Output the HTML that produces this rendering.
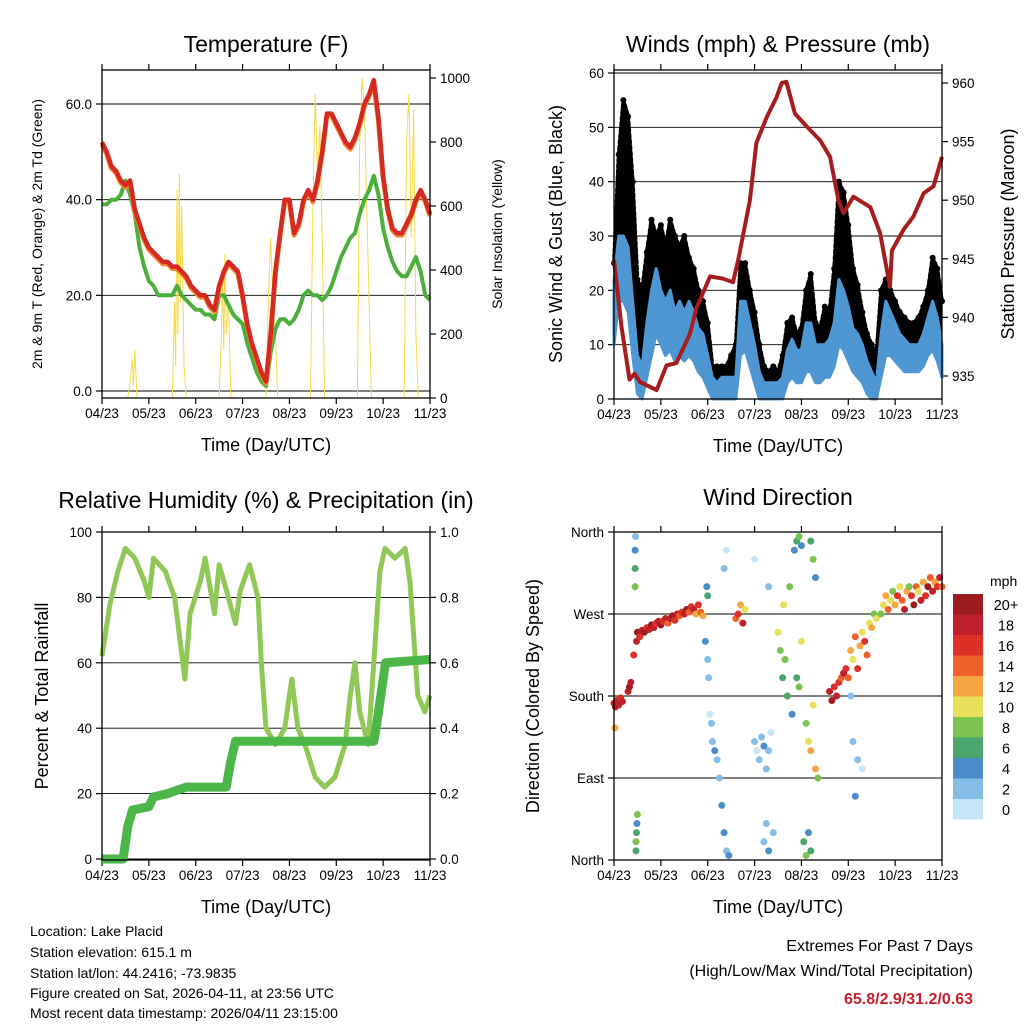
<!DOCTYPE html>
<html><head><meta charset="utf-8">
<style>
body{margin:0;background:#fff;}
svg{display:block;font-family:"Liberation Sans",Arial,sans-serif;}
</style></head>
<body>
<svg id="chart" width="1024" height="1024" viewBox="0 0 1024 1024" xmlns="http://www.w3.org/2000/svg">
<rect width="1024" height="1024" fill="#fff"/>
<g id="root"></g>
<text x="30" y="936" font-size="14">Location: Lake Placid</text>
<text x="30" y="957" font-size="14">Station elevation: 615.1 m</text>
<text x="30" y="978" font-size="14">Station lat/lon: 44.2416; -73.9835</text>
<text x="30" y="998" font-size="14">Figure created on Sat, 2026-04-11, at 23:56 UTC</text>
<text x="30" y="1018" font-size="14">Most recent data timestamp: 2026/04/11 23:15:00</text>
<text x="973" y="951" font-size="16" text-anchor="end">Extremes For Past 7 Days</text>
<text x="973" y="976" font-size="16" text-anchor="end">(High/Low/Max Wind/Total Precipitation)</text>
<text x="973" y="1004" font-size="16" font-weight="bold" fill="#c8202a" text-anchor="end">65.8/2.9/31.2/0.63</text>
</svg>
<script>
// ---------- DATA ----------
const xTickLabels = ["04/23","05/23","06/23","07/23","08/23","09/23","10/23","11/23"];
const days71 = Array.from({length:71},(_,i)=>i/10);
const tempRed = [52,50,47,46,44,43,44,38,35,32,30,29,28,27,27,26,26,25,24,22,21,20,20,18,17,22,25,27,26,25,20,14,10,7,4,2,12,25,33,40,40,33,35,40,42,40,44,50,58,58,56,54,52,51,53,56,60,62,65,57,45,38,34,33,33,35,37,40,42,40,37];
const tempDew = [39,39,40,40,41,44,41,37,30,26,23,22,20,20,20,20,22,20,19,18,17,17,16,16,15,20,20,18,16,15,14,10,7,4,2,1,8,13,15,15,14,15,17,20,21,20,20,19,20,22,25,28,30,32,33,37,40,42,45,41,34,30,27,25,24,24,26,28,25,20,19];
const solarDays = [0,0.55,0.6,0.65,0.67,0.7,0.75,1.5,1.55,1.57,1.6,1.62,1.65,1.67,1.7,1.75,1.8,2.5,2.55,2.57,2.6,2.62,2.65,2.7,2.75,3.5,3.55,3.6,3.65,3.7,3.75,4.45,4.5,4.55,4.6,4.65,4.7,4.75,5.45,5.5,5.55,5.6,5.65,5.7,5.75,6.45,6.5,6.55,6.6,6.65,6.7,6.75,7];
const solarVals = [0,0,50,120,40,150,0,0,300,100,650,200,700,300,600,100,0,0,200,400,150,450,200,300,0,0,300,500,300,200,0,0,600,950,700,850,500,0,0,800,1000,900,600,300,0,0,800,950,500,900,200,0,0];
const windHi = [22,30,30,28,18,8,6,14,20,24,20,18,20,16,18,16,18,16,13,12,8,4,3,4,4,4,4,18,18,14,10,5,3,3,3,3,4,9,11,9,9,14,14,10,10,10,11,14,22,20,17,13,12,10,7,5,3,12,18,16,14,12,11,10,10,10,12,15,18,15,10];
const windLo = [10,18,18,16,8,1,0,4,8,12,10,8,9,7,8,7,8,7,5,4,2,0,0,0,0,0,0,8,9,6,3,0,0,0,0,0,0,3,4,3,3,5,5,3,3,4,4,6,10,9,7,5,4,3,1,0,0,4,8,8,7,6,5,5,5,5,6,8,9,7,4];
const gustHi = [25,45,55,52,40,22,20,27,33,30,32,28,33,30,28,30,26,24,20,18,14,6,6,6,6,8,10,25,25,20,16,10,6,5,6,5,8,14,15,12,13,20,23,14,13,17,16,24,40,38,32,24,21,16,12,10,8,20,22,20,18,16,15,14,14,15,17,20,26,24,18];
const presDays = [0,0.16,0.33,0.44,0.55,0.91,1.12,1.33,1.62,1.76,2.05,2.33,2.54,2.65,2.9,3.04,3.26,3.47,3.58,3.68,3.86,4.11,4.4,4.61,4.79,4.9,5.11,5.47,5.68,5.89,5.93,6.18,6.39,6.61,6.82,7];
const presVals = [944.9,939.2,934.7,935.2,934.5,933.8,935.9,936.1,938.6,940.8,943.5,943.3,943.0,944.9,950.0,954.9,957.1,958.8,960.0,960.1,957.4,956.3,955.1,953.7,950.0,948.9,950.3,949.4,947.2,942.6,945.7,947.5,948.6,950.6,951.2,953.7];
const rhDays = [0,0.17,0.34,0.5,0.7,0.9,1.0,1.1,1.35,1.55,1.77,1.88,2.1,2.2,2.4,2.5,2.6,2.85,2.95,3.15,3.33,3.4,3.5,3.7,3.9,4.05,4.18,4.33,4.55,4.75,4.97,5.19,5.3,5.4,5.5,5.68,5.8,5.93,6.04,6.25,6.47,6.57,6.74,6.89,7.0];
const rhVals = [62,78,88,95,92,85,80,92,88,80,55,75,85,92,75,90,85,72,82,90,80,60,40,35,40,55,40,35,25,22,25,35,50,60,45,35,60,88,95,92,95,85,50,45,50];
const prDays = [0,0.45,0.55,0.65,1.0,1.1,1.4,1.6,1.8,2.65,2.75,2.85,5.8,5.85,5.95,6.05,7.0];
const prVals = [0,0,0.1,0.15,0.16,0.19,0.2,0.21,0.22,0.22,0.3,0.36,0.36,0.4,0.5,0.6,0.61];
const wdDay = [0,0.02,0.03,0.06,0.1,0.14,0.18,0.3,0.33,0.36,0.42,0.48,0.5,0.55,0.6,0.65,0.7,0.75,0.8,0.85,0.9,0.95,1.0,1.05,1.1,1.15,1.2,1.25,1.3,1.35,1.4,1.45,1.5,1.55,1.6,1.65,1.7,1.75,1.8,1.85,1.9,0.45,0.45,0.45,0.46,0.47,0.47,0.48,0.49,0.5,1.95,2.0,2.02,2.05,2.08,2.0,1.98,2.1,2.15,2.2,2.25,2.3,2.35,2.4,2.45,2.35,2.4,2.6,2.65,2.7,2.75,2.8,3.0,3.05,3.1,3.15,3.2,3.25,3.3,3.35,3.2,3.25,3.3,3.4,3.0,3.3,3.5,3.55,3.6,3.62,3.65,3.7,3.75,3.8,3.85,3.9,3.95,4.0,3.9,3.95,4.0,4.05,4.1,4.15,4.2,4.1,4.15,4.2,4.25,4.3,4.35,4.2,4.25,4.3,4.6,4.65,4.7,4.75,4.8,4.85,4.9,4.95,5.0,5.05,5.1,5.15,5.2,5.25,5.3,5.35,5.4,5.45,5.5,5.55,5.6,5.1,5.2,5.3,5.15,5.05,5.7,5.75,5.8,5.85,5.9,5.95,6.0,6.05,6.1,6.15,6.2,6.25,6.3,6.35,6.4,6.45,6.5,6.55,6.6,6.65,6.7,6.75,6.8,6.85,6.9,6.95,7.0];
const wdDir = [172,145,168,175,170,178,174,185,190,195,225,240,250,245,252,250,255,253,258,255,260,262,258,262,265,260,265,268,263,270,268,272,270,275,272,278,275,270,280,272,268,300,320,340,355,10,20,30,40,50,240,220,200,160,150,290,300,130,120,110,90,60,30,10,5,320,340,265,270,280,260,275,130,120,110,135,125,100,120,140,20,40,10,30,330,300,250,230,200,280,220,180,300,160,340,350,355,345,200,190,240,20,5,30,10,150,130,120,170,100,90,350,330,310,185,175,190,180,195,200,205,210,200,230,220,245,210,235,250,240,225,260,255,270,265,130,110,100,70,180,270,280,290,275,285,295,280,290,300,285,275,295,300,290,280,300,295,285,305,290,300,310,295,305,300,310,300];
const wdSpd = [18,12,20,18,18,16,18,18,20,18,16,18,20,16,18,20,16,18,20,18,16,18,20,16,18,14,18,20,16,18,14,16,18,20,14,16,18,12,16,14,12,8,6,4,2,6,8,6,4,8,4,3,2,1,2,6,4,3,4,3,3,4,4,3,4,2,1,14,16,12,18,10,2,1,3,2,4,2,3,1,2,3,4,2,1,3,10,8,6,10,8,6,8,4,4,6,8,4,6,8,10,6,8,4,6,8,10,12,10,12,8,6,8,4,18,20,16,18,16,14,18,16,14,12,10,14,16,12,10,16,14,10,12,8,10,2,3,1,4,2,8,10,12,14,10,8,12,16,10,14,18,12,8,16,20,14,10,18,12,16,20,14,18,12,16,18,14];
const spdLabels = ["20+","18","16","14","12","10","8","6","4","2","0"];
const spdColors = ["#9b1b1e","#c0202a","#dc3129","#ef6129","#f6a544","#e8e05a","#7cc250","#4aa56e","#4a8dc8","#86bde6","#c5e6f8"];

// ---------- HELPERS ----------
const NS="http://www.w3.org/2000/svg";
const root=document.getElementById('root');
function mk(tag,attrs,parent,text){const e=document.createElementNS(NS,tag);for(const k in attrs)e.setAttribute(k,attrs[k]);if(text!==undefined)e.textContent=text;(parent||root).appendChild(e);return e;}
function lin(d0,d1,r0,r1){return v=>r0+(v-d0)/(d1-d0)*(r1-r0);}
function pathOf(xs,ys,fx,fy){return xs.map((x,i)=>(i?'L':'M')+fx(x).toFixed(1)+','+fy(ys[i]).toFixed(1)).join('');}

function panel(name,x0,x1,y0,y1,title,titleY){
  const g=mk('g',{});
  
  
  const t=mk('text',{x:(x0+x1)/2,y:titleY,'font-size':23,'text-anchor':'middle'},g,title);
  
  
  const fx=lin(0,7,x0,x1);
  xTickLabels.forEach((lb,i)=>{
    const xx=fx(i);
    mk('line',{x1:xx,x2:xx,y1:y1,y2:y1+6,stroke:'#000','stroke-width':1.2},g);
    mk('line',{x1:xx,x2:xx,y1:y0,y2:y0-6,stroke:'#000','stroke-width':1.2},g);
    const tl=mk('text',{x:xx,y:y1+20,'font-size':13.5,'text-anchor':'middle'},g,lb);
    
    
  });
  const xt=mk('text',{x:(x0+x1)/2,y:y1+53,'font-size':18,'text-anchor':'middle'},g,'Time (Day/UTC)');
  
  
  return {g,fx};
}
function frame(g,x0,x1,y0,y1){mk('rect',{x:x0,y:y0,width:x1-x0,height:y1-y0,fill:'none',stroke:'#000','stroke-width':1.3},g);}
function yAxis(g,vals,labels,fy,x,side,grid,x0,x1){
  vals.forEach((v,i)=>{
    const yy=fy(v);
    if(grid)mk('line',{x1:x0,x2:x1,y1:yy,y2:yy,stroke:'#000','stroke-width':0.9},g);
    mk('line',{x1:x,x2:x+(side<0?-6:6),y1:yy,y2:yy,stroke:'#000','stroke-width':1.2},g);
    const t=mk('text',{x:x+(side<0?-10:10),y:yy+5,'font-size':13.5,'text-anchor':side<0?'end':'start'},g,labels[i]);
    
    
  });
}
function vTitle(g,txt,x,y,size,name){const t=mk('text',{x:x,y:y,'font-size':size,'text-anchor':'middle',transform:`rotate(-90 ${x} ${y})`},g,txt);}

// ---------- PANEL 1: TEMPERATURE ----------
{
  const X0=102,X1=430,Y0=70,Y1=398;
  const p=panel('temperature-panel',X0,X1,Y0,Y1,'Temperature (F)',52);
  const fy=lin(0,60,391,104), fs=lin(0,1000,398,78);
  yAxis(p.g,[0,20,40,60],['0.0','20.0','40.0','60.0'],fy,X0,-1,true,X0,X1);
  yAxis(p.g,[0,200,400,600,800,1000],['0','200','400','600','800','1000'],fs,X1,1,false);
  const s=mk('path',{d:pathOf(solarDays,solarVals,p.fx,fs),fill:'none',stroke:'#f5d94a','stroke-width':1},p.g);
  
  const gd=mk('path',{d:pathOf(days71,tempDew,p.fx,fy),fill:'none',stroke:'#4caf3c','stroke-width':4,'stroke-linejoin':'round'},p.g);
  
  const o=mk('path',{d:pathOf(days71,tempRed,p.fx,fy),fill:'none',stroke:'#f08a2c','stroke-width':5,'stroke-linejoin':'round',transform:'translate(0,2)'},p.g);
  
  const r=mk('path',{d:pathOf(days71,tempRed,p.fx,fy),fill:'none',stroke:'#d42a23','stroke-width':4.5,'stroke-linejoin':'round'},p.g);
  
  frame(p.g,X0,X1,Y0,Y1);
  vTitle(p.g,'2m & 9m T (Red, Orange) & 2m Td (Green)',42,234,14,'temp-y-axis-title');
  vTitle(p.g,'Solar Insolation (Yellow)',502,234,14,'solar-y-axis-title');
}
// ---------- PANEL 2: WINDS ----------
{
  const X0=614,X1=942,Y0=70,Y1=399;
  const p=panel('winds-panel',X0,X1,Y0,Y1,'Winds (mph) & Pressure (mb)',52);
  const fy=lin(0,60,399,73), fp=lin(935,960,376,83);
  yAxis(p.g,[0,10,20,30,40,50,60],['0','10','20','30','40','50','60'],fy,X0,-1,true,X0,X1);
  yAxis(p.g,[935,940,945,950,955,960],['935','940','945','950','955','960'],fp,X1,1,false);
  const gx=p.fx;
  const gust=mk('path',{d:pathOf(days71,gustHi,gx,fy)+pathOf(days71.slice().reverse(),windHi.slice().reverse(),gx,fy).replace('M','L')+'Z',fill:'#000',stroke:'none'},p.g);
  
  const gtop=mk('path',{d:pathOf(days71,gustHi,gx,fy),fill:'none',stroke:'#000','stroke-width':4,'stroke-linejoin':'round','stroke-dasharray':'3 3','stroke-linecap':'round'},p.g);
  
  days71.forEach((d,i)=>{const c=mk('circle',{cx:gx(d),cy:fy(gustHi[i]),r:3,fill:'#000'},p.g);
    });
  const w=mk('path',{d:pathOf(days71,windHi,gx,fy)+pathOf(days71.slice().reverse(),windLo.slice().reverse(),gx,fy).replace('M','L')+'Z',fill:'#4f97d2',stroke:'#4f97d2','stroke-width':3,'stroke-linejoin':'round'},p.g);
  
  const pr=mk('path',{d:pathOf(presDays,presVals,gx,fp),fill:'none',stroke:'#a51d1d','stroke-width':4,'stroke-linejoin':'round'},p.g);
  
  frame(p.g,X0,X1,Y0,Y1);
  vTitle(p.g,'Sonic Wind & Gust (Blue, Black)',562,234,18,'wind-y-axis-title');
  vTitle(p.g,'Station Pressure (Maroon)',1014,234,18,'pressure-y-axis-title');
}
// ---------- PANEL 3: RH & PRECIP ----------
{
  const X0=102,X1=430,Y0=532,Y1=860;
  const p=panel('humidity-panel',X0,X1,Y0,Y1,'Relative Humidity (%) & Precipitation (in)',508);
  const fy=lin(0,100,859,532), fr=lin(0,1,859,532);
  yAxis(p.g,[0,20,40,60,80,100],['0','20','40','60','80','100'],fy,X0,-1,true,X0,X1);
  yAxis(p.g,[0,0.2,0.4,0.6,0.8,1.0],['0.0','0.2','0.4','0.6','0.8','1.0'],fr,X1,1,false);
  const rh=mk('path',{d:pathOf(rhDays,rhVals,p.fx,fy),fill:'none',stroke:'#8fc857','stroke-width':5,'stroke-linejoin':'round'},p.g);
  
  const pc=mk('path',{d:pathOf(prDays,prVals,p.fx,fr),fill:'none',stroke:'#4cb648','stroke-width':9,'stroke-linejoin':'round'},p.g);
  
  frame(p.g,X0,X1,Y0,Y1);
  vTitle(p.g,'Percent & Total Rainfall',48,696,18,'humidity-y-axis-title');
}
// ---------- PANEL 4: WIND DIRECTION ----------
{
  const X0=614,X1=942,Y0=532,Y1=860;
  const p=panel('wind-direction-panel',X0,X1,Y0,Y1,'Wind Direction',505);
  const fy=lin(0,360,860,532);
  yAxis(p.g,[0,90,180,270,360],['North','East','South','West','North'],fy,X0,-1,true,X0,X1);
  function col(s){let k=Math.min(10,Math.max(0,Math.floor(s/2)));return spdColors[10-k];}
  wdDay.forEach((d,i)=>{
    const c=mk('circle',{cx:p.fx(d),cy:fy(wdDir[i]),r:3.5,fill:col(wdSpd[i])},p.g);
    
    
  });
  frame(p.g,X0,X1,Y0,Y1);
  vTitle(p.g,'Direction (Colored By Speed)',539,696,18,'direction-y-axis-title');
  const lg=mk('g',{});
  
  
  mk('text',{x:990,y:586,'font-size':14},lg,'mph');
  spdLabels.forEach((lb,i)=>{
    const y=594+i*20.5;
    const r=mk('rect',{x:953,y:y,width:30,height:20.5,fill:spdColors[i]},lg);
    
    
    const t=mk('text',{x:1006,y:y+16,'font-size':14.5,'text-anchor':'middle'},lg,lb);
    
    
  });
}
</script>
</body></html>
